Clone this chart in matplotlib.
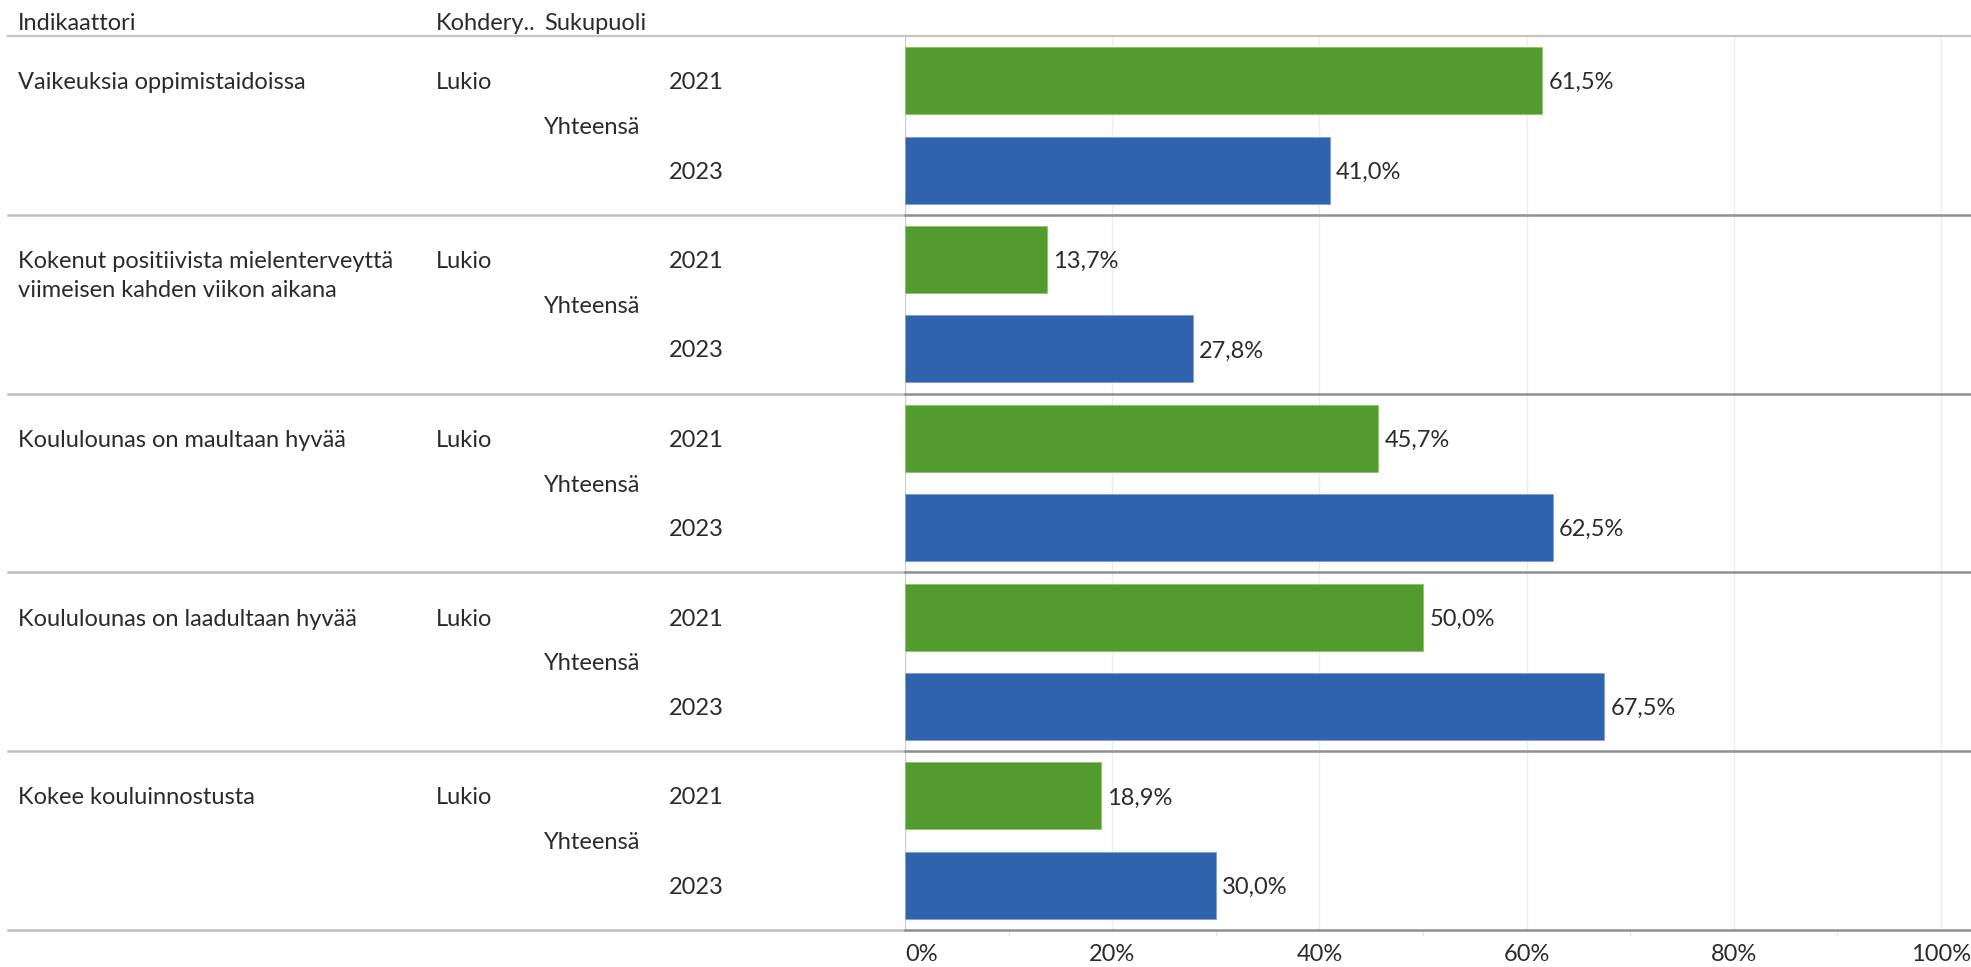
import matplotlib
matplotlib.use("Agg")
import matplotlib.pyplot as plt
from matplotlib.transforms import blended_transform_factory, offset_copy

plt.rcParams['font.family'] = ['Lato', 'DejaVu Sans']

indicators = ["Vaikeuksia oppimistaidoissa",
              "Kokenut positiivista mielenterveyttä\nviimeisen kahden viikon aikana",
              "Koululounas on maultaan hyvää",
              "Koululounas on laadultaan hyvää",
              "Kokee kouluinnostusta"]
target_group = "Lukio"
gender = "Yhteensä"
years = ["2021", "2023"]
v2021 = [61.5, 13.7, 45.7, 50.0, 18.9]
v2023 = [41.0, 27.8, 62.5, 67.5, 30.0]
headers = ["Indikaattori", "Kohdery..", "Sukupuoli"]
xticks = [0, 20, 40, 60, 80, 100]
xticklabels = ["0%", "20%", "40%", "60%", "80%", "100%"]

W, H = 1971, 967
fig = plt.figure(figsize=(W / 100, H / 100), dpi=100)

x0 = 905
top_px, bot_px = 36, 930
ax = fig.add_axes([x0 / W, 1 - bot_px / H, (W - x0) / W, (bot_px - top_px) / H])
ppu = (1941 - x0) / 100.0
ax.set_xlim(0, (W - x0) / ppu)
n = len(indicators)
ax.set_ylim(n, 0)
for s in ax.spines.values():
    s.set_visible(False)
ax.set_yticks([])

green = "#529b2f"
blue = "#2f63ad"
txt = "#2b2b2b"
fs = 17
va = "center_baseline"

# gridlines
for t in xticks[1:]:
    ax.axvline(t, color="#ececec", lw=0.9, zorder=0)
ax.axvline(0, color="#cfcfcf", lw=1.0, zorder=0)

bh = 0.375
ys21 = [i + 0.25 for i in range(n)]
ys23 = [i + 0.75 for i in range(n)]
ax.barh(ys21, v2021, height=bh, color=green, edgecolor="#8cc46e", lw=0.6, zorder=2)
ax.barh(ys23, v2023, height=bh, color=blue, edgecolor="#7d9fd6", lw=0.6, zorder=2)

for y, v in zip(ys21 + ys23, v2021 + v2023):
    ax.text(v + 0.6, y, f"{v:.1f}%".replace(".", ","), va=va, ha="left",
            fontsize=fs, color=txt)

# x ticks
ax.set_xticks(xticks)
ax.set_xticklabels(xticklabels, fontsize=fs, color=txt)
ax.tick_params(axis="x", length=0, pad=10)
ax.get_xticklabels()[0].set_ha("left")
ax.set_xticks([10, 30, 50, 70, 90], minor=True)
ax.tick_params(axis="x", which="minor", length=4, color="#e6e6e6", width=0.8)

# separators
def hline_px(ypx, xa, xb, color, lw):
    fig.add_artist(plt.Line2D([xa / W, xb / W], [1 - ypx / H, 1 - ypx / H],
                              color=color, lw=lw, transform=fig.transFigure))

group_px = (bot_px - top_px) / n
hline_px(top_px, 8, W, "#c4c4c4", 1.6)
for i in range(1, n + 1):
    ypx = top_px + i * group_px
    hline_px(ypx, 8, x0, "#bdbdbd", 1.8)
    hline_px(ypx, x0, W, "#8f8f8f", 1.8)

# headers
hx = [18, 436, 544]
for h, x in zip(headers, hx):
    fig.text(x / W, 1 - 21 / H, h, fontsize=fs, color=txt, ha="left", va=va)

tr = blended_transform_factory(fig.transFigure, ax.transData)
for i, label in enumerate(indicators):
    for k, line in enumerate(label.split("\n")):
        t = offset_copy(tr, fig=fig, x=0, y=-k * 21, units="points")
        fig.text(18 / W, i + 0.25, line, transform=t, fontsize=fs, color=txt,
                 ha="left", va=va)
    fig.text(436 / W, i + 0.25, target_group, transform=tr, fontsize=fs, color=txt,
             ha="left", va=va)
    fig.text(544 / W, i + 0.5, gender, transform=tr, fontsize=fs, color=txt,
             ha="left", va=va)
    fig.text(669 / W, i + 0.25, years[0], transform=tr, fontsize=fs, color=txt,
             ha="left", va=va)
    fig.text(669 / W, i + 0.75, years[1], transform=tr, fontsize=fs, color=txt,
             ha="left", va=va)

fig.savefig("out.png", dpi=100, facecolor="white")
